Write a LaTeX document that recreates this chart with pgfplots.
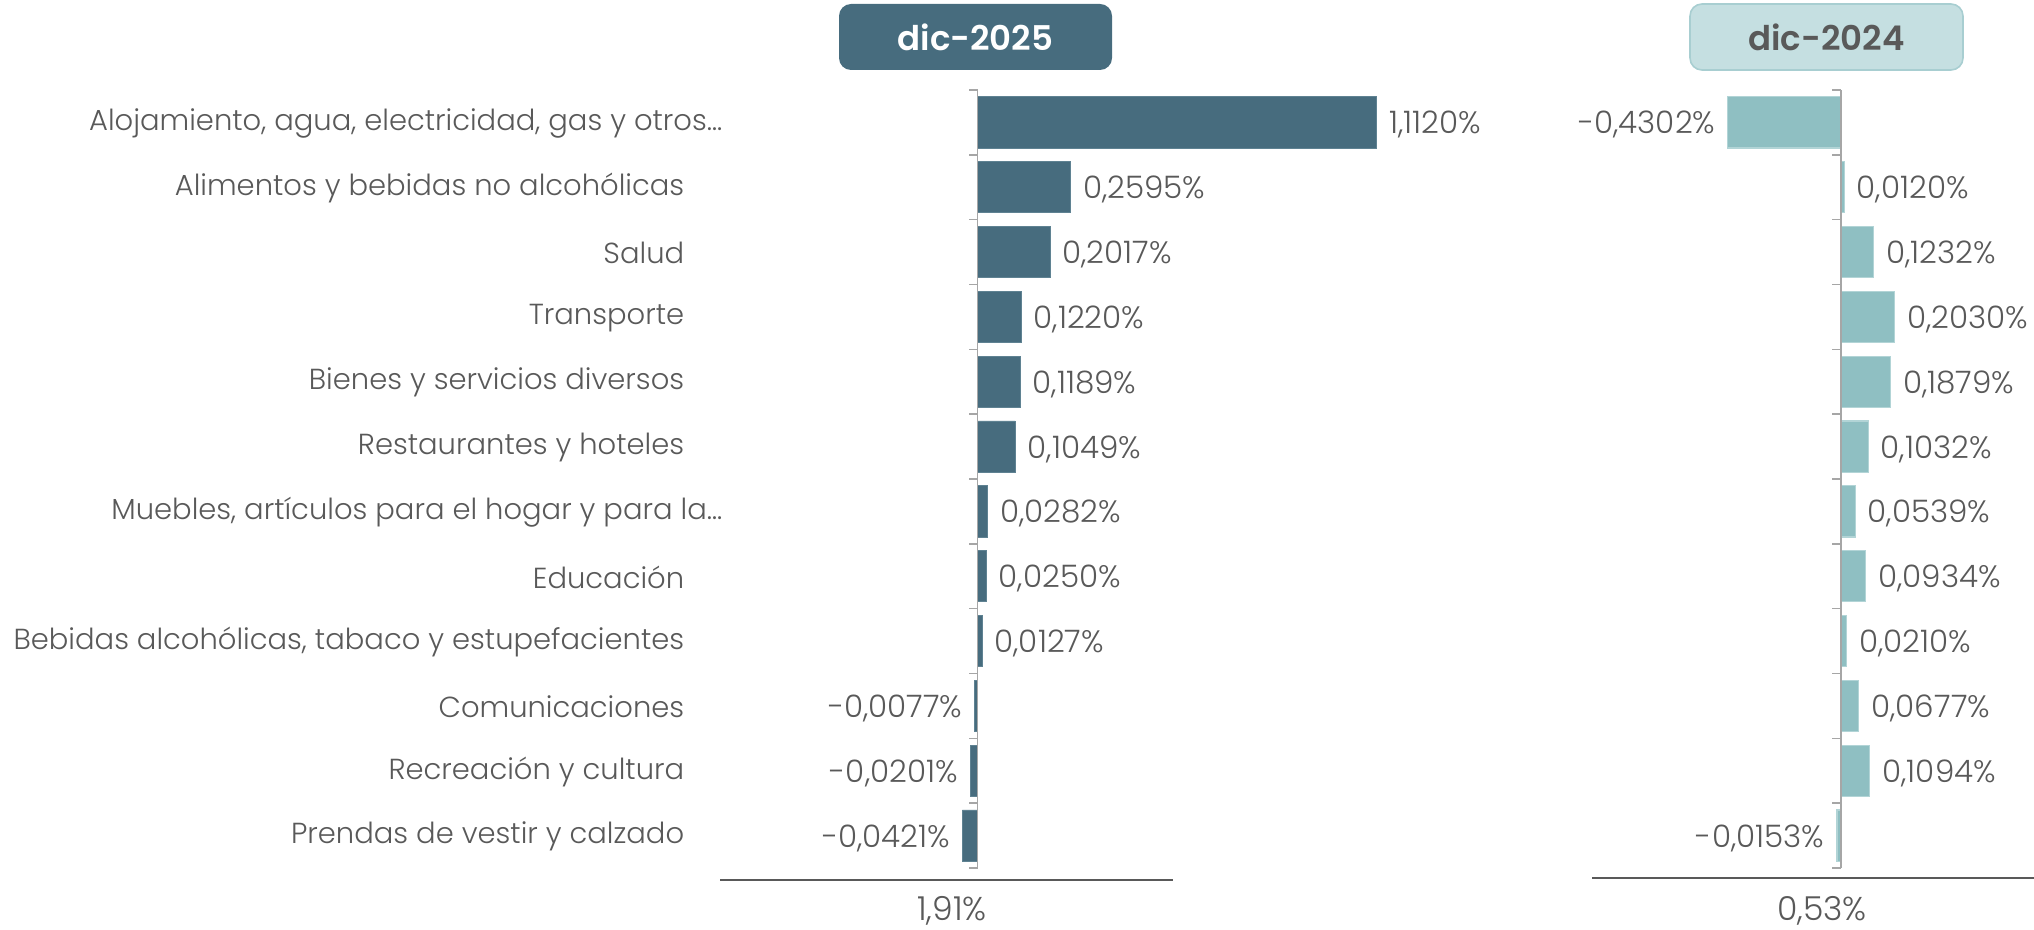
\documentclass[border=0pt]{standalone}
\usepackage{pgfplots}
\pgfplotsset{compat=1.18}
\usepackage{pgfplotstable}
\usepackage{fontspec}
\setmainfont{Poppins}[UprightFont=* Light, BoldFont=* SemiBold]
\definecolor{darkbar}{RGB}{71,108,126}
\definecolor{darkedge}{RGB}{95,130,146}
\definecolor{lightbar}{RGB}{143,191,194}
\definecolor{lightedge}{RGB}{178,212,214}
\definecolor{boxlight}{RGB}{197,223,225}
\definecolor{boxedge}{RGB}{168,206,209}
\definecolor{txt}{RGB}{89,89,89}
\definecolor{axgray}{RGB}{166,166,166}

\pgfplotstableread{
y x lab
1 1.1120 1,1120
2 0.2595 0,2595
3 0.2017 0,2017
4 0.1220 0,1220
5 0.1189 0,1189
6 0.1049 0,1049
7 0.0282 0,0282
8 0.0250 0,0250
9 0.0127 0,0127
10 -0.0077 -0,0077
11 -0.0201 -0,0201
12 -0.0421 -0,0421
}\datL

\pgfplotstableread{
y x lab
1 -0.4302 -0,4302
2 0.0120 0,0120
3 0.1232 0,1232
4 0.2030 0,2030
5 0.1879 0,1879
6 0.1032 0,1032
7 0.0539 0,0539
8 0.0934 0,0934
9 0.0210 0,0210
10 0.0677 0,0677
11 0.1094 0,1094
12 -0.0153 -0,0153
}\datR

\pgfplotsset{
  panel/.style={
    anchor=north west,
    scale only axis,
    height=389pt,
    ymin=0.5, ymax=12.5,
    y dir=reverse,
    xbar,
    bar width=0.79,
    bar shift=0pt,
    axis x line=none,
    axis y line=left,
    y axis line style={draw=none},
    major tick length=0pt,
    ytick={1,...,12},
    clip=false,
    point meta=explicit symbolic,
    visualization depends on={rawx \as \rawx},
    nodes near coords={\pgfplotspointmeta\%},
    every node near coord/.append style={font=\fontsize{15.5}{18}\selectfont, text=txt, inner sep=6pt, yshift=-1.2pt,
      anchor=\ifdim\rawx pt<0pt east\else west\fi},
  },
}

\begin{document}
\begin{tikzpicture}
\useasboundingbox (0,0) rectangle (1017pt,-465pt);

% left panel
\begin{axis}[panel,
  at={(470.8pt,-45pt)},
  width=233.35pt,
  xmin=-0.1, xmax=1.2,
  yticklabels={{Alojamiento, agua, electricidad, gas y otros…\hspace*{-19pt}},
    {Alimentos y bebidas no alcohólicas},
    {Salud},
    {Transporte},
    {Bienes y servicios diversos},
    {Restaurantes y hoteles},
    {Muebles, artículos para el hogar y para la…\hspace*{-19pt}},
    {Educación},
    {Bebidas alcohólicas, tabaco y estupefacientes},
    {Comunicaciones},
    {Recreación y cultura},
    {Prendas de vestir y calzado}},
  yticklabel style={anchor=east, inner sep=0pt, xshift=-128.5pt, yshift=-0.5pt, font=\fontsize{14.5}{17}\selectfont, text=txt},
]
\addplot[fill=darkbar, draw=darkedge, line width=0.4pt] table[x=x, y=y, meta=lab] {\datL};
\draw[axgray, line width=0.8pt] (axis cs:0,0.5) -- (axis cs:0,12.5);
\pgfplotsinvokeforeach{0.5,1.5,2.5,3.5,4.5,5.5,6.5,7.5,8.5,9.5,10.5,11.5,12.5}{
  \draw[axgray, line width=0.8pt] (axis cs:0,#1) -- ++(-4.5pt,0pt);
}
\end{axis}

% right panel
\begin{axis}[panel,
  at={(854.75pt,-45pt)},
  width=157.8pt,
  xmin=-0.5, xmax=0.7,
  yticklabels={},
]
\addplot[fill=lightbar, draw=lightedge, line width=0.6pt] table[x=x, y=y, meta=lab] {\datR};
\draw[axgray, line width=0.8pt] (axis cs:0,0.5) -- (axis cs:0,12.5);
\pgfplotsinvokeforeach{0.5,1.5,2.5,3.5,4.5,5.5,6.5,7.5,8.5,9.5,10.5,11.5,12.5}{
  \draw[axgray, line width=0.8pt] (axis cs:0,#1) -- ++(-4.5pt,0pt);
}
\end{axis}

% titles
\node[fill=darkbar, rounded corners=6pt, minimum width=136.5pt, minimum height=33pt, inner sep=0pt,
  text=white, font=\fontsize{17}{20}\selectfont\bfseries] at (487.75pt,-18.5pt) {dic-2025};
\node[fill=boxlight, draw=boxedge, line width=0.8pt, rounded corners=6pt, minimum width=136.5pt, minimum height=33pt, inner sep=0pt,
  text=txt, font=\fontsize{17}{20}\selectfont\bfseries] at (913.25pt,-18.5pt) {dic-2024};

% bottom lines and totals
\draw[txt, line width=1.2pt] (360pt,-440pt) -- (586.5pt,-440pt);
\draw[txt, line width=1.2pt] (796pt,-439pt) -- (1017pt,-439pt);
\node[text=txt, font=\fontsize{16.5}{19}\selectfont] at (476pt,-455.5pt) {1,91\%};
\node[text=txt, font=\fontsize{16.5}{19}\selectfont] at (911pt,-455.5pt) {0,53\%};
\end{tikzpicture}
\end{document}
